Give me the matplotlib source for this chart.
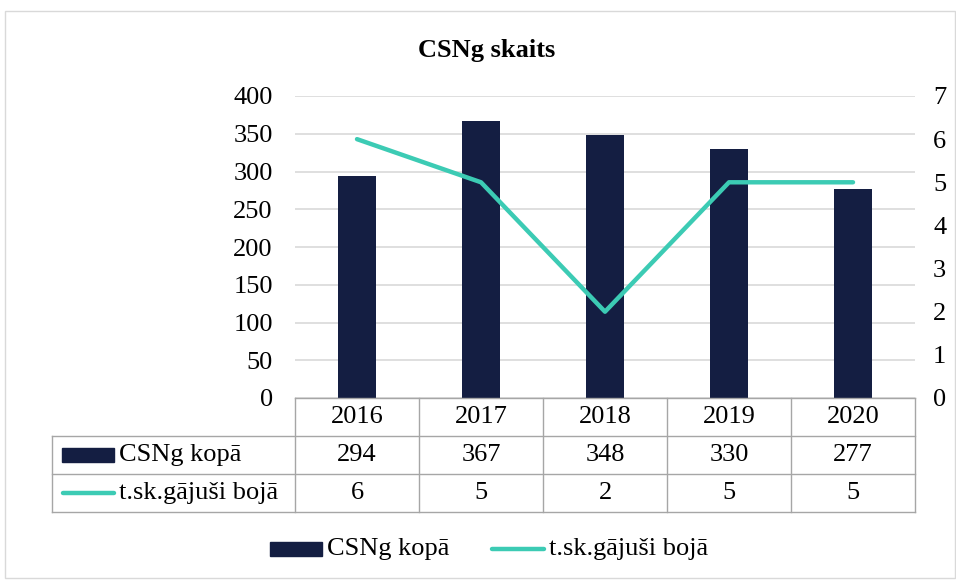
import matplotlib.pyplot as plt
from matplotlib.lines import Line2D
from matplotlib.patches import Rectangle

years = ['2016', '2017', '2018', '2019', '2020']
kopa = [294, 367, 348, 330, 277]
boja = [6, 5, 2, 5, 5]
bar_label = 'CSNg kopā'
line_label = 't.sk.gājuši bojā'

bar_color = '#141E42'
line_color = '#3CCBB4'
grid_color = '#D9D9D9'
edge_color = '#A6A6A6'
fs = 19

plt.rcParams['font.family'] = ['Liberation Serif', 'DejaVu Serif']

W, H = 956, 581
fig = plt.figure(figsize=(W / 100, H / 100), dpi=100)

def fx(px):
    return px / W

def fy(py):
    return 1 - py / H

# outer chart frame
fig.patches.append(Rectangle((fx(5), fy(578)), fx(955) - fx(5), fy(11) - fy(578),
                             transform=fig.transFigure, fill=False, edgecolor='#D9D9D9', lw=1))

left, right, top, bottom = 295, 915, 96, 398
ax = fig.add_axes([fx(left), fy(bottom), fx(right) - fx(left), fy(top) - fy(bottom)])
x = range(len(years))
ax.bar(x, kopa, width=0.31, color=bar_color, zorder=3)
ax.set_xlim(-0.5, len(years) - 0.5)
ax.set_ylim(0, 400)
ax.set_yticks(range(0, 401, 50))
ax.yaxis.grid(True, color=grid_color, lw=1.2, zorder=0)
ax.set_xticks([])
for s in ax.spines.values():
    s.set_visible(False)
ax.tick_params(axis='y', length=0, labelsize=fs, pad=16)

ax2 = ax.twinx()
ax2.plot(x, boja, color=line_color, lw=3.2, solid_capstyle='round', zorder=4)
ax2.set_ylim(0, 7)
ax2.set_yticks(range(0, 8))
for s in ax2.spines.values():
    s.set_visible(False)
ax2.tick_params(axis='y', length=0, labelsize=fs, pad=13)

fig.text(fx(487), fy(50), 'CSNg skaits', ha='center', va='center', fontsize=fs, fontweight='bold')

# data table
tl = 52
rows_y = [398, 436, 474, 512]
col_w = (right - left) / len(years)
cols_x = [left + i * col_w for i in range(len(years) + 1)]
lkw = dict(color=edge_color, lw=1, transform=fig.transFigure)
fig.add_artist(Line2D([fx(left), fx(right)], [fy(rows_y[0])] * 2, **lkw))
for yy in rows_y[1:]:
    fig.add_artist(Line2D([fx(tl), fx(right)], [fy(yy)] * 2, **lkw))
for cx in cols_x:
    fig.add_artist(Line2D([fx(cx)] * 2, [fy(rows_y[0]), fy(rows_y[-1])], **lkw))
fig.add_artist(Line2D([fx(tl)] * 2, [fy(rows_y[1]), fy(rows_y[-1])], **lkw))

def mid(i):
    return fy((rows_y[i] + rows_y[i + 1]) / 2)

for i, yr in enumerate(years):
    cx = fx(cols_x[i] + col_w / 2)
    fig.text(cx, mid(0), yr, ha='center', va='center', fontsize=fs)
    fig.text(cx, mid(1), str(kopa[i]), ha='center', va='center', fontsize=fs)
    fig.text(cx, mid(2), str(boja[i]), ha='center', va='center', fontsize=fs)

fig.patches.append(Rectangle((fx(62), mid(1) - 0.012), fx(52), 0.024,
                             transform=fig.transFigure, color=bar_color))
fig.text(fx(119), mid(1), bar_label, ha='left', va='center', fontsize=fs)
fig.add_artist(Line2D([fx(63), fx(114)], [mid(2)] * 2, color=line_color, lw=3.2,
                      solid_capstyle='round', transform=fig.transFigure))
fig.text(fx(119), mid(2), line_label, ha='left', va='center', fontsize=fs)

# legend
ly = fy(549)
fig.patches.append(Rectangle((fx(270), ly - 0.012), fx(52), 0.024,
                             transform=fig.transFigure, color=bar_color))
fig.text(fx(327), ly, bar_label, ha='left', va='center', fontsize=fs)
fig.add_artist(Line2D([fx(492), fx(544)], [ly] * 2, color=line_color, lw=3.2,
                      solid_capstyle='round', transform=fig.transFigure))
fig.text(fx(549), ly, line_label, ha='left', va='center', fontsize=fs)

fig.savefig('out.png', dpi=100)
